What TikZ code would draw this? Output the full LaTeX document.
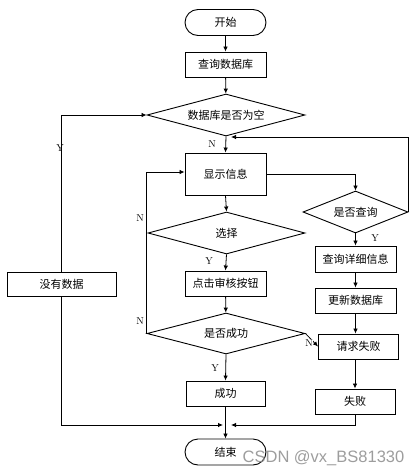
\documentclass[tikz,border=0pt]{standalone}
\usepackage{fontspec}
\newfontfamily\cjk{Noto Sans CJK SC}
\newfontfamily\wmfont{Liberation Sans}
\usetikzlibrary{shapes.geometric,shapes.misc,arrows.meta}
\tikzset{
  base/.style={draw=black,line width=0.9pt,inner sep=0pt,font=\cjk\fontsize{11}{12}\selectfont,fill=white},
  boxn/.style={base,rectangle,minimum width=81pt,minimum height=25pt},
  term/.style={base,rounded rectangle,minimum width=81pt,minimum height=26pt},
  dia/.style={base,diamond,shape aspect=3.7,minimum width=158pt,minimum height=42pt},
  arr/.style={line width=0.8pt,-{Latex[length=5pt,width=4.5pt]}},
  lab/.style={font=\fontsize{10}{10}\selectfont,inner sep=0pt}
}
\begin{document}
\begin{tikzpicture}[x=1pt,y=-1pt]
\useasboundingbox (0,0) rectangle (414,474);
\node[term] (start) at (225.5,22.5) {开始};
\node[boxn] (q1) at (225.5,64.5) {查询数据库};
\node[dia] (d1) at (226,115) {数据库是否为空};
\node[boxn,minimum width=109pt,minimum height=24pt] (none) at (61.5,284) {没有数据};
\node[boxn,minimum height=42pt] (show) at (225.5,174) {显示信息};
\node[dia,minimum width=105pt] (d2) at (355.5,212) {是否查询};
\node[boxn,minimum height=26pt] (detail) at (355.5,259) {查询详细信息};
\node[boxn] (upd) at (355.5,300.5) {更新数据库};
\node[boxn,minimum width=80pt] (fail1) at (358.5,346.5) {请求失败};
\node[boxn,minimum width=80pt] (fail2) at (355,401.5) {失败};
\node[dia,minimum width=157pt] (sel) at (226.5,233) {选择};
\node[boxn] (click) at (225.5,283.5) {点击审核按钮};
\node[dia,minimum height=41pt] (succ) at (226,333.5) {是否成功};
\node[boxn,minimum width=79pt] (ok) at (225.5,393.5) {成功};
\node[term] (end) at (225.5,452) {结束};

\coordinate (jl) at (223,425);
\coordinate (jr) at (231,425);
\coordinate (fb) at (231,137);

\draw[arr] (start) -- (q1);
\draw[arr] (q1) -- (d1);
\draw[arr] (none.north) |- (d1.west);
\node[lab] (ly1) at (60,148) {Y};
\draw[arr] (none.south) |- (jl);
\draw[arr] (d1.south) -- (show.north);
\node[lab] (ln1) at (212,144) {N};
\draw[arr] (show.east) -| (d2.north);
\draw[arr] (d2.east) |- (fb);
\draw[arr] (d2.south) -- (detail.north);
\node[lab] (ly2) at (375,238) {Y};
\draw[arr] (detail) -- (upd);
\draw[arr] (upd.south) -- (upd.south |- fail1.north);
\draw[arr] (fail1.south -| fail2.north) -- (fail2.north);
\draw[arr] (fail2.south) |- (jr);
\draw[arr] (show.south) -- (sel.north);
\draw[arr] (succ.west) |- ([yshift=2pt]show.west);
\node[lab] (ln2) at (140,218) {N};
\node[lab] (ln3) at (140,321) {N};
\draw[arr] (sel.south) -- (click.north);
\node[lab] (ly3) at (209,261) {Y};
\draw[arr] (click) -- (succ);
\draw[arr] (succ.east) -- (fail1.west);
\node[lab,fill=white,inner sep=0.5pt] (ln4) at (309,343) {N};
\draw[arr] (succ.south) -- (ok.north);
\node[lab] (ly4) at (215,368) {Y};
\draw[arr] (ok.south) -- (end.north);
\node[font=\wmfont\fontsize{16.5}{17}\selectfont,text=black!45,opacity=0.85,inner sep=0pt] (wm) at (323.5,458) {CSDN @vx\_BS81330};
\end{tikzpicture}
\end{document}
